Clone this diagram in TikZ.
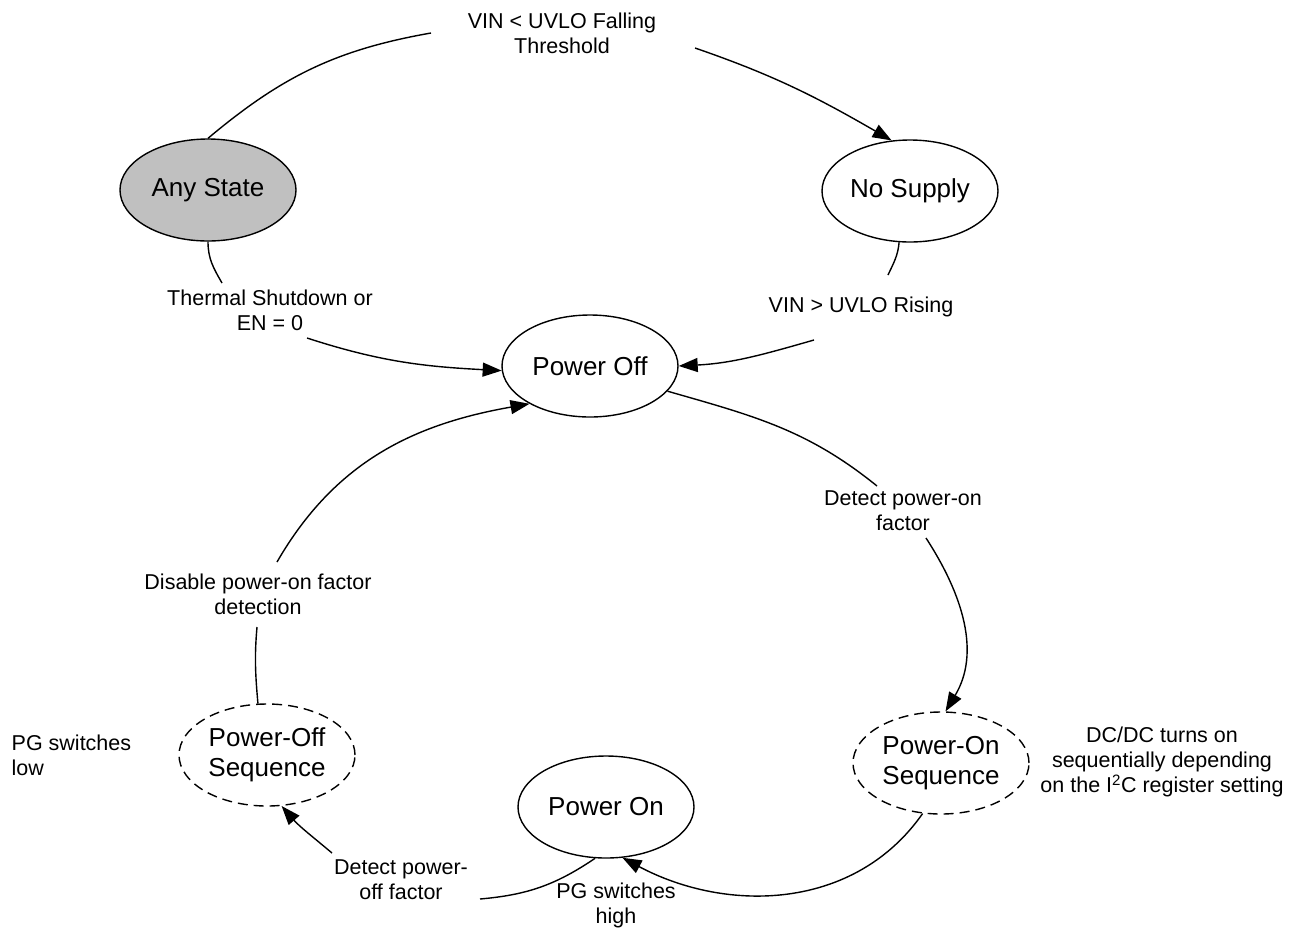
\documentclass[tikz,border=0pt]{standalone}
\usepackage{fontspec}
\setmainfont{Liberation Sans}
\usepackage{tikz}
\usetikzlibrary{shapes.geometric}
\usetikzlibrary{arrows.meta}
\definecolor{anyfill}{RGB}{192,192,192}
\tikzset{>={Triangle[length=19pt,width=14pt]}}
\tikzset{
	stnode/.style={ellipse, draw, minimum width=176pt, minimum height=102pt, inner sep=0pt, align=center, font=\fontsize{26}{30}\selectfont},
	seqnode/.style={stnode, dash pattern=on 10pt off 6pt},
	lbl/.style={align=center, inner sep=0pt, font=\fontsize{21.5}{25}\selectfont}
}

\begin{document}
\begin{tikzpicture}[x=1pt, y=1pt, line width=1.4pt]
	\useasboundingbox (0,0) rectangle (1296,-930);

	\node[stnode, fill=anyfill] (anyst) at (208,-190) {Any State};
	\node[stnode] (nosup) at (910,-191) {No Supply};
	\node[stnode] (poff) at (590,-366) {Power Off};
	\node[stnode] (pon) at (606,-807) {Power On};
	\node[seqnode] (onseq) at (941,-763) {Power-On\\Sequence};
	\node[seqnode] (offseq) at (267,-755) {Power-Off\\Sequence};

	\node[lbl] (fall) at (562,-33) {VIN < UVLO Falling\\Threshold};
	\node[lbl] (therm) at (270,-310) {Thermal Shutdown or\\EN = 0};
	\node[lbl] (rise) at (861,-307) {VIN > UVLO Rising};
	\node[lbl] (deton) at (903,-511) {Detect power-on\\factor};
	\node[lbl] (dis) at (258,-594) {Disable power-on factor\\detection};
	\node[lbl, anchor=west, align=left] (pglow) at (11,-755) {PG switches\\low};
	\node[lbl] (dcdc) at (1162,-762) {DC/DC turns on\\sequentially depending\\on the I\textsuperscript{2}C register setting};
	\node[lbl] (detoff) at (401,-880) {Detect power-\\off factor};
	\node[lbl] (pghigh) at (616,-905) {PG switches\\high};

	% ends of the connectors at the labels
	\coordinate (fallL) at (431,-33);
	\coordinate (fallR) at (695,-48);
	\coordinate (thermA) at (222,-283);
	\coordinate (thermB) at (307,-338);
	\coordinate (riseA) at (888,-275);
	\coordinate (riseB) at (814,-340);
	\coordinate (detonA) at (877,-486);
	\coordinate (detonB) at (926,-538);
	\coordinate (disA) at (257,-627);
	\coordinate (disB) at (277,-562);
	\coordinate (detoffA) at (480,-899);
	\coordinate (detoffB) at (332,-853);

	\draw (anyst.north) to[out=40, in=190] (fallL);
	\draw[->] (fallR) to[out=-19, in=150] (nosup.110);
	\draw (anyst.south) to[out=270, in=120] (thermA);
	\draw[->] (thermB) to[out=-18, in=177] (poff.183);
	\draw (nosup.258) to[out=265, in=65] (riseA);
	\draw[->] (riseB) to[out=196, in=3] (poff.east);
	\draw (poff.-18) to[out=-16, in=141] (detonA);
	\draw[->] (detonB) to[out=-57, in=59] (onseq.85);
	\draw[->] (onseq.250) to[out=235, in=-28] (pon.-72);
	\draw (pon.258) to[out=214, in=5] (detoffA);
	\draw[->] (detoffB) to[out=140, in=-49] (offseq.-74);
	\draw (offseq.100) to[out=95, in=265] (disA);
	\draw[->] (disB) to[out=60, in=190] (poff.212);
\end{tikzpicture}
\end{document}
